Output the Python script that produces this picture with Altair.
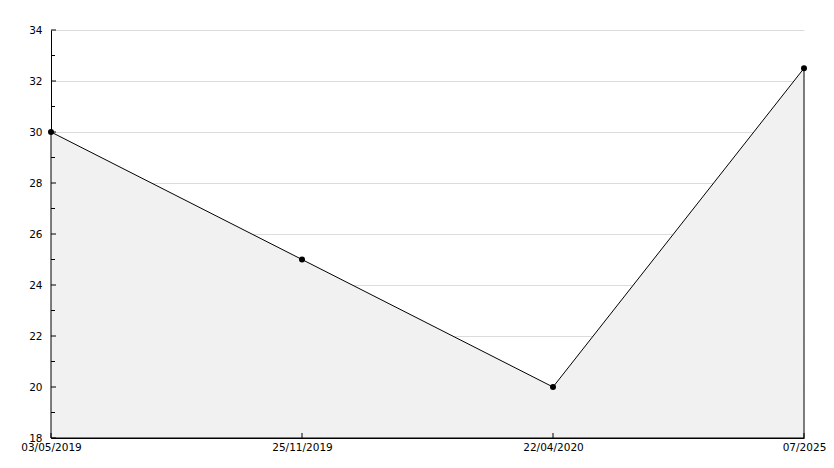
import altair as alt
import pandas as pd

labels = ["03/05/2019", "25/11/2019", "22/04/2020", "07/2025"]
values = [30, 25, 20, 32.5]
y_major = [18, 20, 22, 24, 26, 28, 30, 32, 34]
y_minor = [19, 21, 23, 25, 27, 29, 31, 33]

W, H = 753, 408
df = pd.DataFrame({"label": labels, "value": values})
df_major = pd.DataFrame({"v": y_major})
df_minor = pd.DataFrame({"v": y_minor})
df_xt = pd.DataFrame({"label": labels})

FONT = "DejaVu Sans"

xscale = alt.Scale(type="point", padding=0, domain=labels)
yscale = alt.Scale(domain=[18, 34], nice=False, zero=False)

x_enc = alt.X("label:N", scale=xscale, sort=labels, title=None,
              axis=alt.Axis(labelAngle=0, ticks=False, domainColor="black",
                            labelColor="black", labelFont=FONT, labelFontSize=10.5,
                            labelPadding=4, labelFlush=False, labelOverlap=False,
                            grid=False))
y_enc = alt.Y("value:Q", scale=yscale, title=None,
              axis=alt.Axis(values=y_major, ticks=False, domainColor="black",
                            labelColor="black", labelFont=FONT, labelFontSize=10.5,
                            labelPadding=9, grid=True, gridColor="#dcdcdc",
                            gridWidth=1))

area = alt.Chart(df).mark_area(color="#f1f1f1", opacity=1, stroke="black",
                               strokeWidth=1, line=False).encode(x=x_enc, y=y_enc, y2=alt.datum(18))
pts = alt.Chart(df).mark_point(shape="circle", filled=True, color="black",
                               size=36, opacity=1).encode(
    x=alt.X("label:N", scale=xscale, sort=labels),
    y=alt.Y("value:Q", scale=yscale))

ymaj = alt.Chart(df_major).mark_rule(color="black", strokeWidth=1).encode(
    y=alt.Y("v:Q", scale=yscale), x=alt.value(0), x2=alt.value(5))
ymin = alt.Chart(df_minor).mark_rule(color="black", strokeWidth=1).encode(
    y=alt.Y("v:Q", scale=yscale), x=alt.value(0), x2=alt.value(4))
xt = alt.Chart(df_xt).mark_rule(color="black", strokeWidth=1).encode(
    x=alt.X("label:N", scale=xscale, sort=labels), y=alt.value(H), y2=alt.value(H - 5))

chart = alt.layer(area, ymaj, ymin, xt, pts).properties(
    width=W, height=H,
    autosize=alt.AutoSizeParams(type="none"),
    padding={"left": 43, "top": 22, "right": 22, "bottom": 22},
    background="white",
).configure_view(stroke=None)

chart.save("out.html", embed_options={"renderer": "svg", "actions": False})
